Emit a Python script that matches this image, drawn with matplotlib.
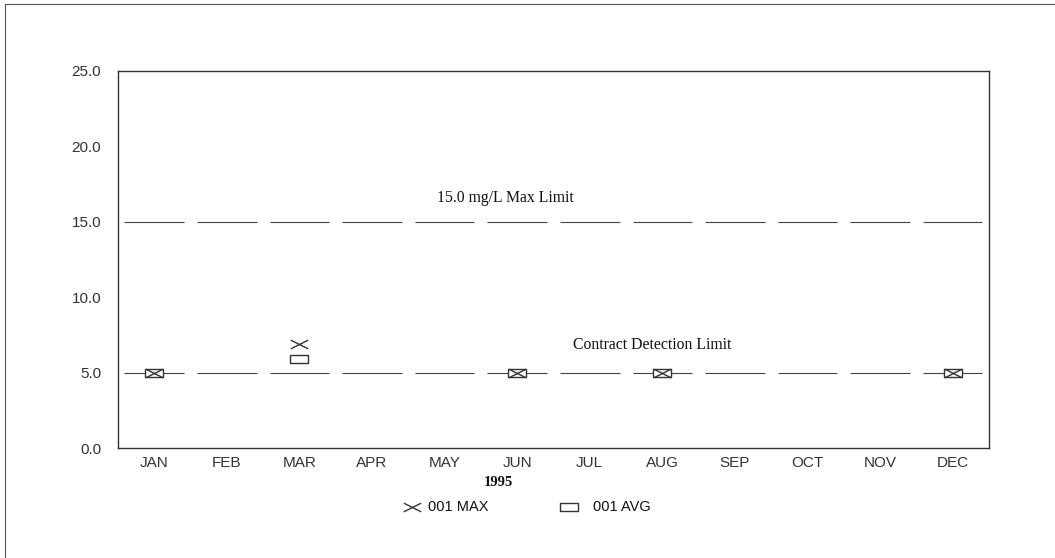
import matplotlib
matplotlib.use('Agg')
import matplotlib.pyplot as plt
from matplotlib.path import Path
from matplotlib.lines import Line2D

months = ['JAN', 'FEB', 'MAR', 'APR', 'MAY', 'JUN', 'JUL', 'AUG', 'SEP', 'OCT', 'NOV', 'DEC']
max_limit = 15.0
detection_limit = 5.0

# months that have samples, with max and average values
sample_months = ['JAN', 'MAR', 'JUN', 'AUG', 'DEC']
max_values = [5.0, 6.9, 5.0, 5.0, 5.0]
avg_values = [5.0, 5.9, 5.0, 5.0, 5.0]

y_ticks = [0.0, 5.0, 10.0, 15.0, 20.0, 25.0]

# flat x and wide box markers, like the original plot
x_marker = Path([(-1, -0.5), (1, 0.5), (-1, 0.5), (1, -0.5)],
                [Path.MOVETO, Path.LINETO, Path.MOVETO, Path.LINETO])
box_marker = Path([(-1, -0.5), (1, -0.5), (1, 0.5), (-1, 0.5), (-1, -0.5)],
                  [Path.MOVETO, Path.LINETO, Path.LINETO, Path.LINETO, Path.CLOSEPOLY])

sans = ['Liberation Sans', 'DejaVu Sans']
serif = ['Liberation Serif', 'DejaVu Serif']
ink = '#333333'
label_col = '#333333'

fig = plt.figure(figsize=(10.55, 5.58), dpi=100)
ax = fig.add_axes([0.1118, 0.1971, 0.8256, 0.6757])

xs = list(range(len(months)))
half = 0.41
# limit lines drawn as one dash per month
ax.hlines([max_limit] * len(xs), [x - half for x in xs], [x + half for x in xs],
          color='#444444', linewidth=0.8)
ax.hlines([detection_limit] * len(xs), [x - half for x in xs], [x + half for x in xs],
          color='#444444', linewidth=0.8)

pos = [months.index(m) for m in sample_months]
ax.plot(pos, avg_values, linestyle='none', marker=box_marker, markersize=12.5,
        markerfacecolor='white', markeredgecolor=ink, markeredgewidth=1.0)
ax.plot(pos, max_values, linestyle='none', marker=x_marker, markersize=12.5,
        markeredgecolor=ink, markeredgewidth=1.0)

ax.text(4.84, 16.6, '15.0 mg/L Max Limit', ha='center', va='center',
        fontsize=11.3, family=serif, color='#111111')
ax.text(6.86, 6.8, 'Contract Detection Limit', ha='center', va='center',
        fontsize=11.3, family=serif, color='#111111')

ax.set_xlim(-0.5, 11.5)
ax.set_ylim(0, 25)
ax.set_xticks(xs)
ax.set_xticklabels(months, family=sans, fontsize=11, color=label_col)
ax.set_yticks(y_ticks)
ax.set_yticklabels([f'{v:.1f}' for v in y_ticks], family=sans, fontsize=11, color=label_col)
ax.tick_params(length=0)
ax.tick_params(axis='x', pad=6)
ax.tick_params(axis='y', pad=12)
for s in ax.spines.values():
    s.set_color(ink)
    s.set_linewidth(1.0)

fig.text(498 / 1055, 1 - 482 / 558, '1995', ha='center', va='center',
         fontsize=10.5, fontweight='bold', family=serif, color='#111111')

# legend row drawn by hand below the year
leg_y = 1 - 507 / 558
fig.add_artist(Line2D([412 / 1055], [leg_y], transform=fig.transFigure, linestyle='none',
                      marker=x_marker, markersize=12.5, markeredgecolor=ink, markeredgewidth=1.0))
fig.text(428 / 1055, leg_y, '001 MAX', ha='left', va='center',
         family=sans, fontsize=10.5, color='#111111')
fig.add_artist(Line2D([569 / 1055], [leg_y], transform=fig.transFigure, linestyle='none',
                      marker=box_marker, markersize=12.5, markerfacecolor='white',
                      markeredgecolor=ink, markeredgewidth=1.0))
fig.text(593 / 1055, leg_y, '001 AVG', ha='left', va='center',
         family=sans, fontsize=10.5, color='#111111')

# outer frame (left and top edges)
fig.add_artist(Line2D([5 / 1055, 5 / 1055], [0, 1 - 4 / 558], transform=fig.transFigure,
                      color='#555555', linewidth=0.8))
fig.add_artist(Line2D([5 / 1055, 1], [1 - 4 / 558, 1 - 4 / 558], transform=fig.transFigure,
                      color='#555555', linewidth=0.8))

fig.savefig('out.png', dpi=100)
